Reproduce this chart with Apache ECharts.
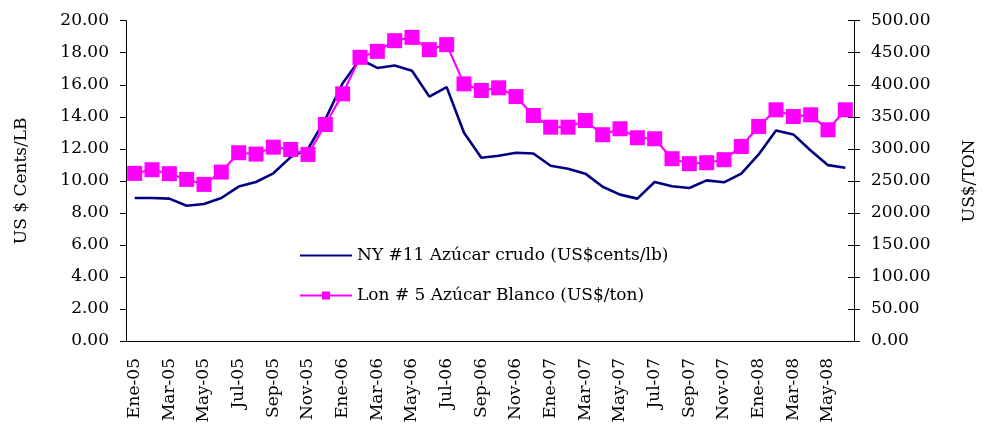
<!DOCTYPE html>
<html>
<head>
<meta charset="utf-8">
<script src="https://cdn.jsdelivr.net/npm/echarts@6/dist/echarts.min.js"></script>
<style>
  html, body { margin: 0; padding: 0; background: #ffffff; }
  #chart { width: 986px; height: 431px; }
</style>
</head>
<body>
<div id="chart"></div>
<script>
var months = [
  'Ene-05','Feb-05','Mar-05','Abr-05','May-05','Jun-05','Jul-05','Ago-05','Sep-05','Oct-05','Nov-05','Dic-05',
  'Ene-06','Feb-06','Mar-06','Abr-06','May-06','Jun-06','Jul-06','Ago-06','Sep-06','Oct-06','Nov-06','Dic-06',
  'Ene-07','Feb-07','Mar-07','Abr-07','May-07','Jun-07','Jul-07','Ago-07','Sep-07','Oct-07','Nov-07','Dic-07',
  'Ene-08','Feb-08','Mar-08','Abr-08','May-08','Jun-08'
];
// NY #11 raw sugar, US cents/lb (left axis)
var nyRaw = [
  8.93, 8.93, 8.89, 8.45, 8.55, 8.93, 9.64, 9.93, 10.47, 11.48, 12.00, 13.85,
  16.10, 17.60, 17.05, 17.20, 16.88, 15.26, 15.85, 13.00, 11.44, 11.57, 11.75, 11.71,
  10.94, 10.76, 10.45, 9.63, 9.14, 8.89, 9.93, 9.66, 9.55, 10.03, 9.91, 10.45,
  11.65, 13.15, 12.90, 11.90, 10.98, 10.82
];
// London #5 white sugar, US$/ton (right axis)
var lonWhite = [
  261.7, 267.4, 261.2, 252.3, 244.5, 263.7, 293.9, 291.8, 302.6, 299.0, 291.3, 338.0,
  385.8, 442.8, 452.2, 468.8, 474.0, 454.8, 462.6, 401.4, 391.0, 395.2, 381.6, 352.0,
  333.8, 333.8, 344.2, 322.0, 331.3, 317.3, 315.7, 284.6, 276.8, 278.3, 283.0, 303.7,
  334.9, 360.9, 350.5, 353.1, 329.8, 360.9
];
var leftName = 'US $ Cents/LB';
var rightName = 'US$/TON';
var nyName = 'NY #11 Azúcar crudo (US$cents/lb)';
var lonName = 'Lon # 5 Azúcar Blanco (US$/ton)';

var fontFam = '"DejaVu Serif", serif';
var axisCol = '#000000';

var chart = echarts.init(document.getElementById('chart'));
var option = {
  backgroundColor: '#ffffff',
  animation: false,
  textStyle: { fontFamily: fontFam },
  grid: { left: 126, right: 123, top: 20.7, bottom: 90 },
  legend: {
    orient: 'vertical',
    left: 294,
    top: 242,
    itemWidth: 52,
    itemHeight: 10,
    itemGap: 23,
    textStyle: { fontFamily: fontFam, fontSize: 17, color: '#000000' },
    data: [
      { name: nyName, itemStyle: { opacity: 0 } },
      { name: lonName }
    ]
  },
  xAxis: {
    type: 'category',
    data: months,
    boundaryGap: true,
    axisLine: { lineStyle: { color: axisCol, width: 1 } },
    axisTick: { interval: 1, length: 5, lineStyle: { color: axisCol } },
    axisLabel: {
      interval: 1,
      rotate: 90,
      margin: 17,
      fontSize: 17,
      fontFamily: fontFam,
      color: '#000000'
    },
    splitLine: { show: false }
  },
  yAxis: [
    {
      type: 'value',
      position: 'left',
      min: 0, max: 20, interval: 2,
      name: leftName,
      nameLocation: 'middle',
      nameRotate: 90,
      nameGap: 96,
      nameTextStyle: { fontFamily: fontFam, fontSize: 17, color: '#000000' },
      axisLine: { show: true, lineStyle: { color: axisCol } },
      axisTick: { show: true, length: 6, lineStyle: { color: axisCol } },
      axisLabel: {
        margin: 17, fontSize: 17, fontFamily: fontFam, color: '#000000',
        formatter: function (v) { return v.toFixed(2); }
      },
      splitLine: { show: false }
    },
    {
      type: 'value',
      position: 'right',
      min: 0, max: 500, interval: 50,
      name: rightName,
      nameLocation: 'middle',
      nameRotate: 90,
      nameGap: 107,
      nameTextStyle: { fontFamily: fontFam, fontSize: 17, color: '#000000' },
      axisLine: { show: true, lineStyle: { color: axisCol } },
      axisTick: { show: true, length: 6, lineStyle: { color: axisCol } },
      axisLabel: {
        margin: 17, fontSize: 17, fontFamily: fontFam, color: '#000000',
        formatter: function (v) { return v.toFixed(2); }
      },
      splitLine: { show: false }
    },
    {
      // inner half of the crossing ticks on the right axis
      type: 'value',
      position: 'right',
      min: 0, max: 500, interval: 50,
      axisLine: { show: false },
      axisTick: { show: true, inside: true, length: 6, lineStyle: { color: axisCol } },
      axisLabel: { show: false },
      splitLine: { show: false }
    }
  ],
  series: [
    {
      name: nyName,
      type: 'line',
      yAxisIndex: 0,
      data: nyRaw,
      showSymbol: false,
      symbol: 'none',
      lineStyle: { color: '#000080', width: 2.6 },
      itemStyle: { color: '#000080' }
    },
    {
      name: lonName,
      type: 'line',
      yAxisIndex: 1,
      data: lonWhite,
      symbol: 'rect',
      symbolSize: 15,
      showAllSymbol: true,
      lineStyle: { color: '#ff00ff', width: 2.2 },
      itemStyle: { color: '#ff00ff' }
    }
  ]
};
chart.setOption(option);
</script>
</body>
</html>
